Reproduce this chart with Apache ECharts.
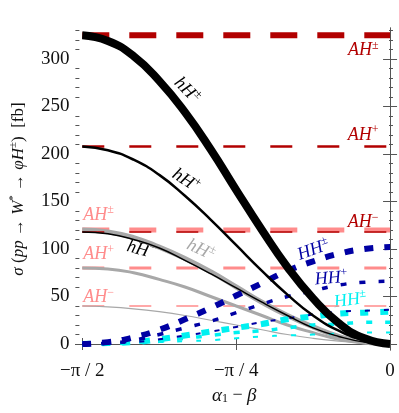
<!DOCTYPE html>
<html>
<head>
<meta charset="utf-8">
<script src="https://cdn.jsdelivr.net/npm/echarts@6/dist/echarts.min.js"></script>
<style>
  html, body { margin: 0; padding: 0; background: #fff; }
  #chart { width: 399px; height: 413px; }
</style>
</head>
<body>
<div id="chart"></div>
<script>
// sample points along alpha_1 - beta (radians)
const alpha = [-1.571, -1.440, -1.309, -1.178, -1.047, -0.916, -0.785, -0.654, -0.524, -0.393, -0.262, -0.131, 0];

// hH curves (black) and their light counterparts (gray)
const hHpm  = [325, 319, 303, 277, 244, 205, 162, 120, 81, 48, 22, 6, 0];
const hHp   = [208, 204, 194, 178, 156, 131, 104, 77, 52, 30, 14, 4, 0];
const hHm   = [118, 116, 110, 101, 88, 74, 59, 44, 30, 17, 8, 2, 0];
const hHpmL = [120, 118, 112, 102, 90, 76, 60, 44, 30, 18, 8, 2, 0];
const hHpL  = [80, 79, 75, 68, 60, 50, 40, 30, 20, 12, 5, 1, 0];
const hHmL  = [40, 39, 37, 34, 30, 25, 20, 15, 10, 6, 3, 1, 0];

// HH curves (dark blue) and cyan counterparts
const HHpm  = [0, 2, 7, 15, 26, 38, 51, 64, 77, 87, 95, 100, 102];
const HHp   = [0, 1, 4, 10, 17, 24, 33, 42, 50, 56, 62, 65, 66];
const HHm   = [0, 1, 2, 5, 9, 13, 18, 23, 27, 31, 34, 35, 36];
const HHpmL = [0, 1, 2, 5, 9, 13, 17, 21, 26, 29, 32, 33, 34];
const HHpL  = [0, 0, 2, 3, 6, 9, 12, 14, 17, 20, 21, 23, 23];
const HHmL  = [0, 0, 1, 2, 3, 4, 6, 8, 9, 10, 11, 12, 12];

// AH constant levels
const AHlevels  = [325, 208, 118];
const AHlevelsL = [120, 80, 40];

const xTicks = [-Math.PI / 2, -Math.PI / 4, 0];
const xTickLabels = ['−π / 2', '−π / 4', '0'];
const yTicks = [0, 50, 100, 150, 200, 250, 300];
const yMinor = [10, 20, 30, 40, 60, 70, 80, 90, 110, 120, 130, 140, 160, 170, 180, 190,
  210, 220, 230, 240, 260, 270, 280, 290, 310, 320, 330];

const FONT = 'Liberation Serif';
const DARKRED = '#b20000';
const PINK = '#ff8c8c';
const GRAY = '#a8a8a8';
const BLUE = '#0000a3';
const CYAN = '#00f0f0';

var chartDom = document.getElementById('chart');
var myChart = echarts.init(chartDom);

function curve(ys, color, width, dash) {
  return {
    type: 'line',
    data: alpha.map((a, i) => [a, ys[i]]),
    showSymbol: false,
    smooth: 0.5,
    silent: true,
    lineStyle: { color: color, width: width, type: dash || 'solid', cap: 'butt' }
  };
}

function level(y, color, width, dash) {
  return {
    type: 'line',
    data: [[-Math.PI / 2, y], [0, y]],
    showSymbol: false,
    silent: true,
    lineStyle: { color: color, width: width, type: dash, cap: 'butt' }
  };
}

const frame = { show: true, lineStyle: { color: '#555', width: 1 } };
const supStyle = (size, color) => ({ fontFamily: FONT, fontSize: size, color: color, fill: color, verticalAlign: 'top', lineHeight: size + 1 });

var option = {
  animation: false,
  grid: { left: 74, right: 6, top: 28, bottom: 63 },
  xAxis: [
    {
      type: 'value', min: -1.606, max: 0.015, position: 'bottom',
      axisLine: frame,
      splitLine: { show: false },
      axisTick: { inside: true, length: 6, customValues: xTicks, lineStyle: { color: '#555' } },
      axisLabel: {
        customValues: xTicks, margin: 12, fontFamily: FONT, fontSize: 19, color: '#111',
        formatter: v => xTickLabels[xTicks.findIndex(t => Math.abs(t - v) < 1e-6)]
      },
      name: '{i|α}{sub|1} − {i|β}', nameLocation: 'middle', nameGap: 36,
      nameTextStyle: {
        fontFamily: FONT, fontSize: 18, color: '#111',
        rich: {
          i: { fontFamily: FONT, fontSize: 19, fontStyle: 'italic', color: '#111' },
          sub: { fontFamily: FONT, fontSize: 12, color: '#111', padding: [6, 0, 0, 0] }
        }
      }
    },
    {
      type: 'value', min: -1.606, max: 0.015, position: 'top',
      axisLine: frame, splitLine: { show: false },
      axisTick: { inside: true, length: 6, customValues: xTicks, lineStyle: { color: '#555' } },
      axisLabel: { show: false }
    }
  ],
  yAxis: [
    {
      type: 'value', min: -6.3, max: 332.6, position: 'left',
      axisLine: frame, splitLine: { show: false },
      axisTick: { inside: true, length: 7, customValues: yTicks, lineStyle: { color: '#555' } },
      axisLabel: { customValues: yTicks, margin: 6, fontFamily: FONT, fontSize: 19, color: '#111' },
      name: '{i|σ} ({i|pp} → {i|W}{s|*} → {i|φH}{s|±})  [fb]',
      nameLocation: 'middle', nameGap: 44,
      nameTextStyle: {
        fontFamily: FONT, fontSize: 17, color: '#111', lineHeight: 22,
        rich: {
          i: { fontFamily: FONT, fontSize: 17, fontStyle: 'italic', color: '#111', lineHeight: 22 },
          s: supStyle(11, '#111')
        }
      }
    },
    {
      type: 'value', min: -6.3, max: 332.6, position: 'right',
      axisLine: frame, splitLine: { show: false },
      axisTick: { inside: true, length: 7, customValues: yTicks, lineStyle: { color: '#555' } },
      axisLabel: { show: false }
    },
    {
      type: 'value', min: -6.3, max: 332.6, position: 'left',
      axisLine: { show: false }, splitLine: { show: false },
      axisTick: { inside: true, length: 4, customValues: yMinor, lineStyle: { color: '#555' } },
      axisLabel: { show: false }
    },
    {
      type: 'value', min: -6.3, max: 332.6, position: 'right',
      axisLine: { show: false }, splitLine: { show: false },
      axisTick: { inside: true, length: 4, customValues: yMinor, lineStyle: { color: '#555' } },
      axisLabel: { show: false }
    }
  ],
  series: [
    // light AH levels
    level(AHlevelsL[0], PINK, 5, [27, 20]),
    level(AHlevelsL[1], PINK, 3, [22, 25]),
    level(AHlevelsL[2], PINK, 1.5, [22, 25]),
    // gray hH
    curve(hHpmL, GRAY, 5),
    curve(hHpL, GRAY, 3),
    curve(hHmL, GRAY, 1.2),
    // cyan HH
    curve(HHpmL, CYAN, 6, [8, 12]),
    curve(HHpL, CYAN, 3.5, [6, 13]),
    curve(HHmL, CYAN, 2, [5, 14]),
    // dark red AH levels
    level(AHlevels[0], DARKRED, 6, [27, 20]),
    level(AHlevels[1], DARKRED, 2.5, [22, 25]),
    level(AHlevels[2], DARKRED, 1.5, [22, 25]),
    // blue HH
    curve(HHpm, BLUE, 6, [9, 11]),
    curve(HHp, BLUE, 3.5, [6, 13]),
    curve(HHm, BLUE, 2, [5, 14]),
    // black hH
    curve(hHpm, '#000', 8),
    curve(hHp, '#000', 2.5),
    curve(hHm, '#000', 1.5)
  ]
};

myChart.setOption(option);

// annotations placed in data coordinates: [x, y, text, color, rotation(deg), align]
const notes = [
  [-0.137, 309, '{i|AH}{s|±}', DARKRED, 0, 'center'],
  [-0.137, 220, '{i|AH}{s|+}', DARKRED, 0, 'center'],
  [-0.137, 128, '{i|AH}{s|−}', DARKRED, 0, 'center'],
  [-1.566, 136, '{i|AH}{s|±}', PINK, 0, 'left'],
  [-1.566, 94, '{i|AH}{s|+}', PINK, 0, 'left'],
  [-1.566, 49, '{i|AH}{s|−}', PINK, 0, 'left'],
  [-1.037, 267, '{i|hH}{s|±}', '#000', -45, 'center'],
  [-1.042, 172, '{i|hH}{s|+}', '#000', -33, 'center'],
  [-1.271, 99, '{i|hH}{s|−}', '#000', -15, 'center'],
  [-0.966, 99, '{i|hH}{s|±}', GRAY, -25, 'center'],
  [-0.391, 99, '{i|HH}{s|±}', BLUE, 20, 'center'],
  [-0.300, 69, '{i|HH}{s|+}', BLUE, 5, 'center'],
  [-0.203, 46, '{i|HH}{s|±}', CYAN, 8, 'center']
];

myChart.setOption({
  graphic: notes.map(n => {
    const p = myChart.convertToPixel({ xAxisIndex: 0, yAxisIndex: 0 }, [n[0], n[1]]);
    return {
      type: 'text', x: p[0], y: p[1], rotation: n[4] * Math.PI / 180, silent: true,
      style: {
        text: n[2], align: n[5], verticalAlign: 'middle',
        rich: {
          i: { fontFamily: FONT, fontSize: 18, fontStyle: 'italic', fill: n[3], lineHeight: 22 },
          s: supStyle(12, n[3])
        }
      }
    };
  })
});
</script>
</body>
</html>
